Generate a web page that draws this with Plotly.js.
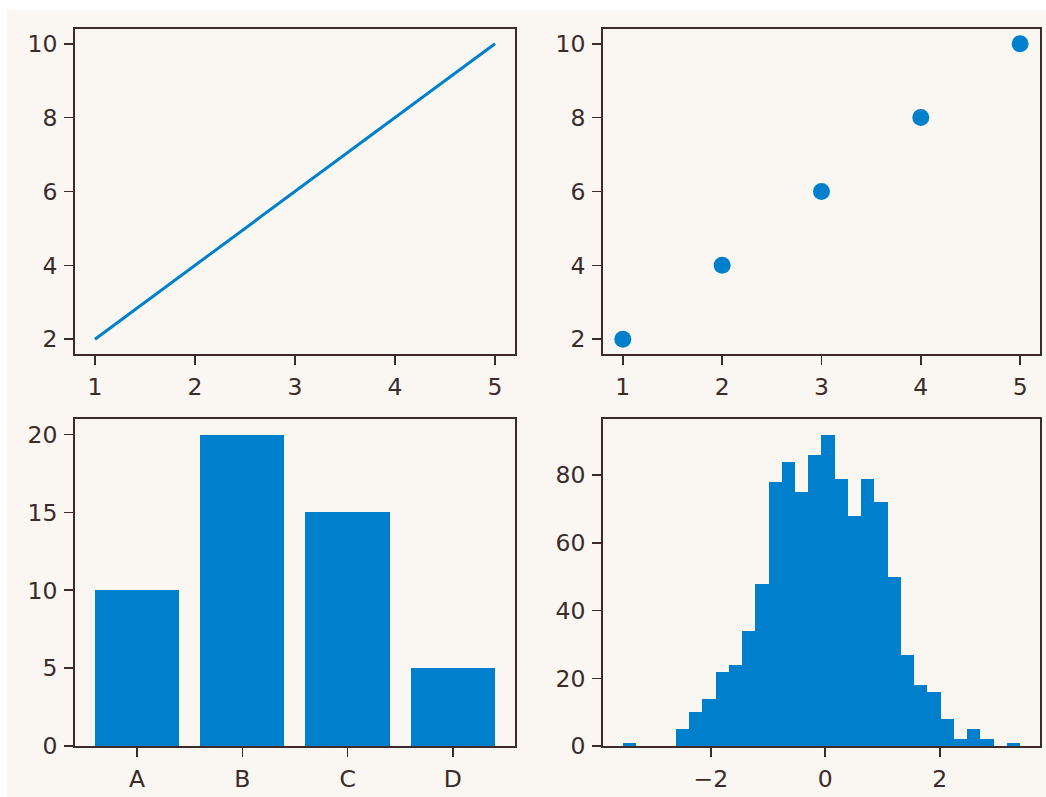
<!DOCTYPE html>
<html>
<head>
<meta charset="utf-8">
<script src="https://cdn.plot.ly/plotly-3.0.1.min.js"></script>
<style>
html,body{margin:0;padding:0;background:#ffffff;}
#chart{position:absolute;left:7px;top:10px;width:1039px;height:787px;}
</style>
</head>
<body>
<div id="chart"></div>
<script>
// Line plot data
const lineX = [1, 2, 3, 4, 5];
const lineY = [2, 4, 6, 8, 10];
// Scatter data
const scatterX = [1, 2, 3, 4, 5];
const scatterY = [2, 4, 6, 8, 10];
// Bar chart data
const barCategories = ['A', 'B', 'C', 'D'];
const barValues = [10, 20, 15, 5];
// Histogram (30 bins)
const histStart = -3.536;
const histBinWidth = 0.2313;
const histCounts = [1, 0, 0, 0, 5, 10, 14, 22, 24, 34, 48, 78, 84, 75, 86, 92, 79, 68, 79, 72, 50, 27, 18, 16, 8, 2, 5, 2, 0, 1];

const blue = '#0080cc';
const ink = '#3b2b2b';
const bg = '#faf7f3';

const histCenters = histCounts.map((_, i) => histStart + (i + 0.5) * histBinWidth);

const traces = [
  {x: lineX, y: lineY, type: 'scatter', mode: 'lines', line: {color: blue, width: 3}, xaxis: 'x', yaxis: 'y', hoverinfo: 'skip'},
  {x: scatterX, y: scatterY, type: 'scatter', mode: 'markers', marker: {color: blue, size: 17}, xaxis: 'x2', yaxis: 'y2', hoverinfo: 'skip'},
  {x: barCategories.map((_, i) => i), y: barValues, type: 'bar', width: 0.8, marker: {color: blue, line: {width: 0}}, xaxis: 'x3', yaxis: 'y3', hoverinfo: 'skip'},
  {x: histCenters, y: histCounts, type: 'bar', width: histBinWidth, marker: {color: blue, line: {width: 0}}, xaxis: 'x4', yaxis: 'y4', hoverinfo: 'skip'}
];

function ax(extra) {
  return Object.assign({
    showline: true, mirror: true, linecolor: ink, linewidth: 1.8,
    ticks: 'outside', ticklen: 9, tickwidth: 1.6, tickcolor: ink,
    showgrid: false, zeroline: false, ticklabelstandoff: 2,
    tickfont: {family: 'DejaVu Sans', size: 23.5, color: ink}
  }, extra);
}

const xl = [0.0654, 0.4889], xr = [0.5736, 0.9942];
const yt = [0.5629, 0.9759], yb = [0.0648, 0.4803];

const layout = {
  width: 1039, height: 787,
  margin: {l: 0, r: 0, t: 0, b: 0},
  paper_bgcolor: bg, plot_bgcolor: bg,
  showlegend: false, bargap: 0,
  font: {family: 'DejaVu Sans', color: ink},
  xaxis: ax({domain: xl, anchor: 'y', range: [0.8, 5.2], tickvals: lineX}),
  yaxis: ax({domain: yt, anchor: 'x', range: [1.6, 10.4], tickvals: [2, 4, 6, 8, 10]}),
  xaxis2: ax({domain: xr, anchor: 'y2', range: [0.8, 5.2], tickvals: scatterX}),
  yaxis2: ax({domain: yt, anchor: 'x2', range: [1.6, 10.4], tickvals: [2, 4, 6, 8, 10]}),
  xaxis3: ax({domain: xl, anchor: 'y3', range: [-0.59, 3.59], tickvals: barCategories.map((_, i) => i), ticktext: barCategories}),
  yaxis3: ax({domain: yb, anchor: 'x3', range: [0, 21], tickvals: [0, 5, 10, 15, 20]}),
  xaxis4: ax({domain: xr, anchor: 'y4', range: [-3.883, 3.75], tickvals: [-2, 0, 2]}),
  yaxis4: ax({domain: yb, anchor: 'x4', range: [0, 96.6], tickvals: [0, 20, 40, 60, 80]})
};

Plotly.newPlot('chart', traces, layout, {staticPlot: true, displayModeBar: false});
</script>
</body>
</html>
